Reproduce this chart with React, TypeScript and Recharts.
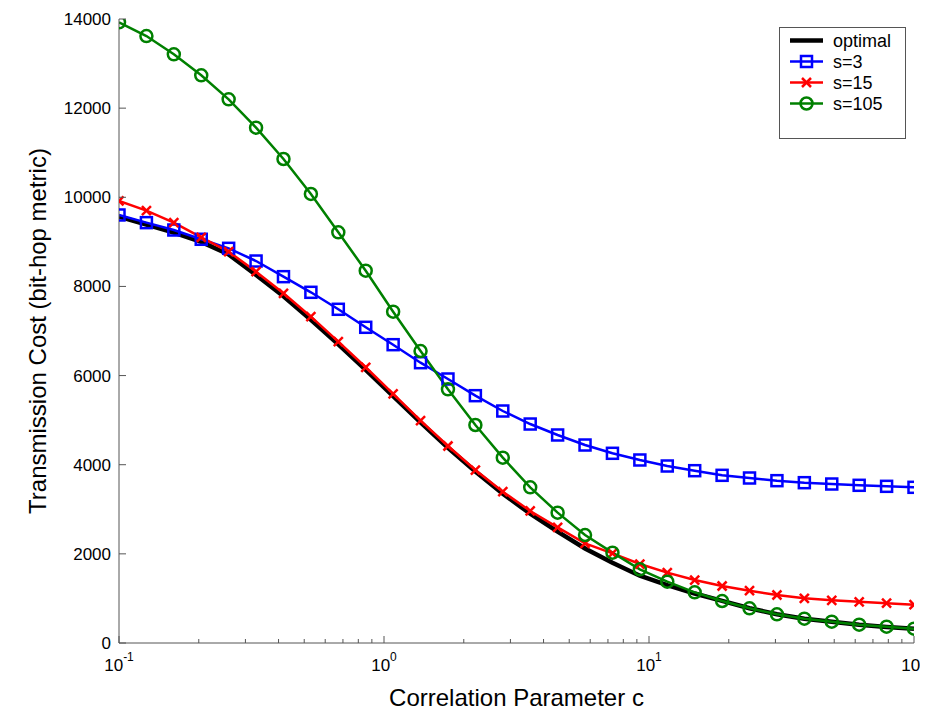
import { LineChart, Line, XAxis, YAxis, Legend } from "recharts";

const FONT = "Arial, 'Liberation Sans', sans-serif";
const AXIS = "#555";

// correlation parameter c (30 log-spaced samples, 0.1 .. 100)
const cValues = [
  0.1, 0.1269, 0.16103, 0.20434, 0.25929, 0.32903, 0.41753, 0.52983, 0.67234, 0.85317,
  1.0826, 1.3738, 1.7433, 2.2122, 2.8072, 3.5622, 4.5204, 5.7362, 7.279, 9.2367,
  11.721, 14.874, 18.874, 23.95, 30.392, 38.566, 48.939, 62.102, 78.805, 100,
];

const optimal = [
  9565, 9390, 9210, 9000, 8720, 8260, 7780, 7250, 6700, 6130,
  5540, 4950, 4380, 3850, 3350, 2900, 2500, 2120, 1800, 1510,
  1300, 1110, 945, 780, 645, 545, 475, 410, 360, 320,
];
const s3 = [
  9603, 9431, 9266, 9058, 8855, 8570, 8219, 7868, 7487, 7083,
  6693, 6289, 5923, 5549, 5205, 4913, 4667, 4442, 4256, 4106,
  3971, 3866, 3762, 3702, 3642, 3597, 3567, 3538, 3515, 3493,
];
const s15 = [
  9917, 9700, 9431, 9102, 8780, 8331, 7845, 7321, 6760, 6186,
  5587, 4988, 4420, 3881, 3395, 2962, 2595, 2236, 2012, 1772,
  1578, 1413, 1279, 1174, 1077, 1002, 957, 925, 893, 860,
];
const s105 = [
  13926, 13618, 13208, 12737, 12198, 11562, 10859, 10074, 9214, 8353,
  7433, 6551, 5692, 4891, 4158, 3493, 2924, 2423, 2027, 1653,
  1376, 1137, 942, 778, 643, 546, 479, 411, 366, 321,
];

const majorTicks = [0.1, 1, 10, 100];
const minorTicks = [
  0.2, 0.3, 0.4, 0.5, 0.6, 0.7, 0.8, 0.9,
  2, 3, 4, 5, 6, 7, 8, 9,
  20, 30, 40, 50, 60, 70, 80, 90,
];
const xTicks = [...majorTicks, ...minorTicks].sort((a, b) => a - b);
const yTicks = [0, 2000, 4000, 6000, 8000, 10000, 12000, 14000];
const exponents: Record<number, string> = { 0.1: "-1", 1: "0", 10: "1", 100: "2" };

const legendItems = [
  { name: "optimal", color: "#000000", marker: "none" },
  { name: "s=3", color: "#0000ff", marker: "square" },
  { name: "s=15", color: "#ff0000", marker: "cross" },
  { name: "s=105", color: "#008000", marker: "circle" },
];

const data = cValues.map((c, i) => ({
  c,
  optimal: optimal[i],
  s3: s3[i],
  s15: s15[i],
  s105: s105[i],
}));

function Marker({ kind, cx, cy, color }: { kind: string; cx: number; cy: number; color: string }) {
  if (kind === "square")
    return <rect x={cx - 5.5} y={cy - 5.5} width={11} height={11} fill="none" stroke={color} strokeWidth={2.5} />;
  if (kind === "circle")
    return <circle cx={cx} cy={cy} r={6} fill="none" stroke={color} strokeWidth={2.5} />;
  if (kind === "cross")
    return (
      <g stroke={color} strokeWidth={2.5}>
        <line x1={cx - 4.5} y1={cy - 4.5} x2={cx + 4.5} y2={cy + 4.5} />
        <line x1={cx - 4.5} y1={cy + 4.5} x2={cx + 4.5} y2={cy - 4.5} />
      </g>
    );
  return null;
}

const dot = (kind: string, color: string) => (props: any) => {
  const { cx, cy, index } = props;
  if (cx == null || cy == null) return <g key={index} />;
  return (
    <g key={index}>
      <Marker kind={kind} cx={cx} cy={cy} color={color} />
    </g>
  );
};

function BottomTick(props: any) {
  const { x, y, payload } = props;
  const v = payload.value;
  const major = majorTicks.includes(v);
  return (
    <g>
      <line x1={x} y1={y} x2={x} y2={y - (major ? 7 : 4)} stroke={AXIS} strokeWidth={1} />
      {major && (
        <text x={x} y={y + 28} textAnchor="middle" fontSize={17} fontFamily={FONT} fill="#000">
          10
          <tspan dy={-10} fontSize={12}>
            {exponents[v]}
          </tspan>
        </text>
      )}
    </g>
  );
}

function TopTick(props: any) {
  const { x, y, payload } = props;
  const major = majorTicks.includes(payload.value);
  return <line x1={x} y1={y} x2={x} y2={y + (major ? 7 : 4)} stroke={AXIS} strokeWidth={1} />;
}

function LeftTick(props: any) {
  const { x, y, payload } = props;
  return (
    <g>
      <line x1={x} y1={y} x2={x + 7} y2={y} stroke={AXIS} strokeWidth={1} />
      <text x={x - 8} y={y} dy="0.35em" textAnchor="end" fontSize={17} fontFamily={FONT} fill="#000">
        {payload.value}
      </text>
    </g>
  );
}

function RightTick(props: any) {
  const { x, y } = props;
  return <line x1={x} y1={y} x2={x - 7} y2={y} stroke={AXIS} strokeWidth={1} />;
}

function LegendBox() {
  return (
    <svg width={127} height={112} style={{ display: "block" }}>
      <rect x={0.5} y={0.5} width={126} height={111} fill="#fff" stroke={AXIS} strokeWidth={1} />
      {legendItems.map((it, i) => {
        const cy = 13.5 + i * 21;
        return (
          <g key={it.name}>
            <line x1={11} y1={cy} x2={44} y2={cy} stroke={it.color} strokeWidth={it.marker === "none" ? 4.5 : 2.5} />
            <Marker kind={it.marker} cx={27.5} cy={cy} color={it.color} />
            <text x={54} y={cy} dy="0.35em" fontSize={18} fontFamily={FONT} fill="#000">
              {it.name}
            </text>
          </g>
        );
      })}
    </svg>
  );
}

export default function App() {
  return (
    <div style={{ width: 920, height: 707, background: "#fff" }}>
      <LineChart
        width={920}
        height={707}
        data={data}
        margin={{ top: 11, right: 14, left: 0, bottom: 7 }}
        style={{ overflow: "visible" }}
      >
        <XAxis
          xAxisId="bottom"
          dataKey="c"
          type="number"
          scale="log"
          domain={[0.1, 100]}
          allowDataOverflow
          ticks={xTicks}
          interval={0}
          tickSize={0}
          tickMargin={0}
          tickLine={false}
          tick={<BottomTick />}
          height={65}
          axisLine={{ stroke: AXIS }}
          label={{
            position: "center",
            content: (p: any) => {
              const vb = p.viewBox || { x: 111, y: 635, width: 795 };
              return (
                <text x={vb.x + vb.width / 2} y={vb.y + 63} textAnchor="middle" fontSize={24} fontFamily={FONT} fill="#000">
                  Correlation Parameter c
                </text>
              );
            },
          }}
        />
        <XAxis
          xAxisId="top"
          orientation="top"
          dataKey="c"
          type="number"
          scale="log"
          domain={[0.1, 100]}
          allowDataOverflow
          ticks={xTicks}
          interval={0}
          tickSize={0}
          tickMargin={0}
          tickLine={false}
          tick={<TopTick />}
          height={0}
          axisLine={{ stroke: AXIS }}
        />
        <YAxis
          yAxisId="left"
          type="number"
          domain={[0, 14000]}
          allowDataOverflow
          ticks={yTicks}
          interval={0}
          tickSize={0}
          tickMargin={0}
          tickLine={false}
          tick={<LeftTick />}
          width={111}
          axisLine={{ stroke: AXIS }}
          label={{
            position: "center",
            content: (p: any) => {
              const vb = p.viewBox || { x: 0, y: 11, height: 624 };
              const cx = vb.x + 38;
              const cy = vb.y + vb.height / 2;
              return (
                <text x={cx} y={cy} transform={`rotate(-90, ${cx}, ${cy})`} textAnchor="middle" fontSize={24} fontFamily={FONT} fill="#000">
                  Transmission Cost (bit-hop metric)
                </text>
              );
            },
          }}
        />
        <YAxis
          yAxisId="right"
          orientation="right"
          type="number"
          domain={[0, 14000]}
          allowDataOverflow
          ticks={yTicks}
          interval={0}
          tickSize={0}
          tickMargin={0}
          tickLine={false}
          tick={<RightTick />}
          width={0}
          axisLine={{ stroke: AXIS }}
        />
        <Legend
          layout="vertical"
          align="center"
          verticalAlign="middle"
          content={() => <LegendBox />}
          wrapperStyle={{ top: 19, left: 771, width: 127, height: 112 }}
        />
        <Line
          xAxisId="bottom"
          yAxisId="left"
          dataKey="optimal"
          stroke="#000"
          strokeWidth={4.5}
          dot={false}
          activeDot={false}
          isAnimationActive={false}
        />
        <Line
          xAxisId="bottom"
          yAxisId="left"
          dataKey="s3"
          stroke="#0000ff"
          strokeWidth={2.5}
          dot={dot("square", "#0000ff")}
          activeDot={false}
          isAnimationActive={false}
        />
        <Line
          xAxisId="bottom"
          yAxisId="left"
          dataKey="s15"
          stroke="#ff0000"
          strokeWidth={2.5}
          dot={dot("cross", "#ff0000")}
          activeDot={false}
          isAnimationActive={false}
        />
        <Line
          xAxisId="bottom"
          yAxisId="left"
          dataKey="s105"
          stroke="#008000"
          strokeWidth={2.5}
          dot={dot("circle", "#008000")}
          activeDot={false}
          isAnimationActive={false}
        />
      </LineChart>
    </div>
  );
}
